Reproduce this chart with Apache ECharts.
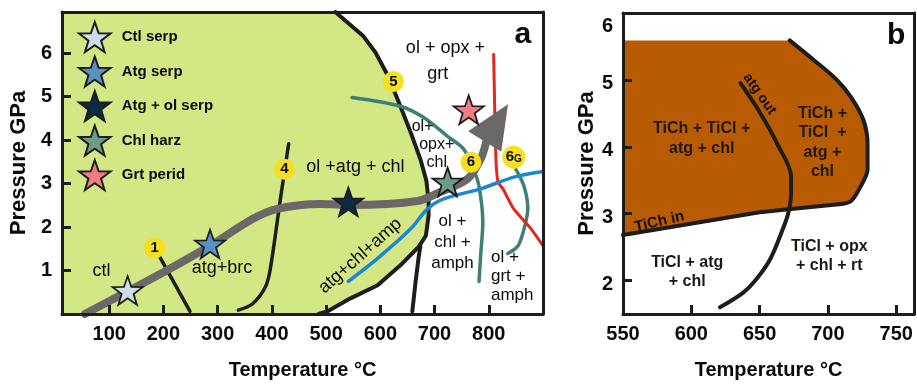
<!DOCTYPE html>
<html><head><meta charset="utf-8">
<script src="https://cdn.jsdelivr.net/npm/echarts@6/dist/echarts.min.js"></script>
<style>html,body{margin:0;padding:0;background:#fff}#c{width:917px;height:385px}</style>
</head><body><div id="c"></div>
<script>
// ================= DATA: panel a (T in °C, P in GPa) =================
const aTempTicks = [100, 200, 300, 400, 500, 600, 700, 800];
const aPresTicks = [1, 2, 3, 4, 5, 6];
// serpentine stability field boundary (upper-right limit of green field)
const serpFieldBoundary = [[517,6.95],[569,6.39],[591,6.02],[615,5.46],[637,4.78],[656,4.18],[674,3.56],[685,3.06],[689,2.60],[689,2.26],[684,1.80],[671,1.55],[637,1.12],[595,0.66],[545,0.36],[502,0.06],[486,0]];
const serpFieldCorners = [[13,0],[13,6.95]];
const chlAmphBoundary = [[659,0.06],[665,0.74],[671,1.34],[674,1.57]];
const reaction1 = [[193,1.32],[249,0.06]];
const reaction4 = [[338,0.09],[364,0.23],[388,0.62],[397,1.03],[416,2.67],[431,3.92]];
const reaction6 = [[548,4.98],[637,4.78],[680,4.52],[724,4.09],[754,3.79],[772,3.33],[782,2.94],[789,2.12],[785,1.34],[782,0.75]];
const reaction6G = [[850,3.33],[865,2.94],[872,2.42],[865,1.96],[854,1.57],[835,1.39]];
const redLine = [[809,5.97],[813,3.63],[817,3.04],[826,2.88],[846,2.42],[878,1.96],[900,1.57]];
const blueLine = [[541,0.75],[595,1.28],[656,1.96],[687,2.42],[717,2.65],[785,2.88],[846,3.15],[900,3.28]];
const subductionPath = [[55,0],[134,0.52],[206,1.0],[286,1.57],[365,2.19],[410,2.42],[489,2.53],[545,2.51],[669,2.60],[711,2.81],[761,3.11],[785,3.56],[795,3.95]];
const arrowHead = [[814,4.40]];
const starNames = ['Ctl serp', 'Atg serp', 'Atg + ol serp', 'Chl harz', 'Grt perid'];
const starPoints = [[134,0.54],[286,1.61],[541,2.58],[724,3.04],[763,4.70]];
const reactionNames = ['1', '4', '5', '6', '6G'];
const reactionPoints = [[184,1.52],[423,3.33],[624,5.35],[767,3.49],[846,3.61]];
const aFieldLabels = [
  [86,0.98,'ctl'],[308,1.05,'atg+brc'],[554,3.38,'ol +atg + chl'],
  [720,6.13,'ol + opx +'],[706,5.52,'grt'],
  [678,4.32,'ol+'],[704,3.91,'opx+'],[704,3.49,'chl'],
  [733,1.64,'ol +\nchl +\namph'],[804,0.86,'ol +\ngrt +\namph'],
  [563,1.34,'atg+chl+amp'],[863,6.42,'a']
];

// ================= DATA: panel b =================
const bTempTicks = [550, 600, 650, 700, 750];
const bPresTicks = [2, 3, 4, 5, 6];
const tiChFieldTop = [[550,5.59]];
const tiChOutBoundary = [[672,5.59],[690,5.29],[706,5.01],[717,4.74],[726,4.40],[729,4.04],[729,3.66],[724,3.41],[717,3.19],[708,3.14]];
const tiChIn = [[550,2.68],[650,3.02],[673,3.07],[708,3.14]];
const atgOut = [[636,4.95],[650,4.52],[663,4.04],[673,3.56],[673,3.30],[671,3.01],[667,2.77],[658,2.33],[648,2.03],[638,1.82],[621,1.60]];
const bFieldLabels = [
  [607.6,4.12,'TiCh + TiCl +\natg + chl'],[696,4.06,'TiCh +\nTiCl  +\natg +\nchl'],
  [597,2.13,'TiCl + atg\n+ chl'],[701,2.36,'TiCl + opx\n+ chl + rt'],
  [576.6,2.88,'TiCh in'],[650,4.79,'atg out'],[750,5.66,'b']
];

// ================= STYLES =================
const FONT = "'Liberation Sans', Arial, sans-serif";
const INK = '#1d1d1b';
const TXT = '#0a0a0a';
const GREEN = '#d3e785';
const ORANGE = '#b95b03';
const TEAL = '#3e7f77';
const starFill = ['#cfdbe8', '#5a92c8', '#0d2944', '#6e9c89', '#f27c83'];
const starPath = 'path://M50,0L61.76,33.82L97.55,34.55L69.02,56.18L79.39,90.45L50,70L20.61,90.45L30.98,56.18L2.45,34.55L38.24,33.82Z';
const labelStyleA = {
  'ol+': {fontSize: 16}, 'opx+': {fontSize: 16}, 'chl': {fontSize: 16},
  'ol +\nchl +\namph': {fontSize: 17, lineHeight: 21},
  'ol +\ngrt +\namph': {fontSize: 17, lineHeight: 19, align: 'left'},
  'atg+chl+amp': {fontSize: 18, rotate: 41.5},
  'a': {fontSize: 30, fontWeight: 'bold'}
};
const labelStyleB = {
  'TiCh + TiCl +\natg + chl': {lineHeight: 20},
  'TiCh +\nTiCl  +\natg +\nchl': {lineHeight: 19.5},
  'TiCl + atg\n+ chl': {lineHeight: 19},
  'TiCl + opx\n+ chl + rt': {lineHeight: 19},
  'TiCh in': {fontSize: 15, rotate: 13, color: '#140d05'},
  'atg out': {fontSize: 14, rotate: -55, color: '#140d05'},
  'b': {fontSize: 30, fontWeight: 'bold', color: TXT}
};

const chart = echarts.init(document.getElementById('c'));

function mainX(gi, min, max, ticks) {
  return {type:'value', gridIndex:gi, min, max, position:'bottom', z:10,
    name:'Temperature °C', nameLocation:'middle', nameGap:46,
    nameTextStyle:{fontSize:20, fontWeight:'bold', color:TXT, fontFamily:FONT},
    axisLine:{show:true, onZero:false, lineStyle:{color:INK, width:3}},
    axisTick:{show:true, inside:true, length:9, customValues:ticks, lineStyle:{color:INK, width:3}},
    axisLabel:{show:true, customValues:ticks, margin:10, fontSize:20, fontWeight:'bold', color:TXT, fontFamily:FONT},
    splitLine:{show:false}};
}
function mainY(gi, min, max, ticks, labels, gap, fmt, pad) {
  return {type:'value', gridIndex:gi, min, max, position:'left', z:10,
    name:'Pressure GPa', nameLocation:'middle', nameGap:gap,
    nameTextStyle:{fontSize:22, fontWeight:'bold', color:TXT, fontFamily:FONT},
    axisLine:{show:true, onZero:false, lineStyle:{color:INK, width:3}},
    axisTick:{show:true, inside:true, length:9, customValues:ticks, lineStyle:{color:INK, width:3}},
    axisLabel:{show:true, customValues:labels, margin:10, fontSize:20, fontWeight:'bold', color:TXT, fontFamily:FONT,
      formatter: fmt,
      rich:{d:{padding:[26,0,0,0], fontSize:20, fontWeight:'bold', color:TXT, fontFamily:FONT},
            n:{padding:[pad,0,0,0], fontSize:20, fontWeight:'bold', color:TXT, fontFamily:FONT}}},
    splitLine:{show:false}};
}
function frameAxis(gi, min, max, pos) {
  return {type:'value', gridIndex:gi, min, max, position:pos, z:10,
    axisLine:{show:true, onZero:false, lineStyle:{color:INK, width:3}},
    axisTick:{show:false}, axisLabel:{show:false}, splitLine:{show:false}};
}
function line(data, color, width, xi, yi, z, smooth) {
  return {type:'line', data, xAxisIndex:xi, yAxisIndex:yi, symbol:'none', smooth: smooth || false,
    lineStyle:{color, width, cap:'round', join:'round'}, z: z || 3, silent:true, animation:false};
}
function polygon(points, color, xi, yi, z) {
  return {type:'custom', xAxisIndex:xi, yAxisIndex:yi, data:[points[0]], z, silent:true, clip:true, animation:false,
    renderItem:(params, api) => ({type:'polygon', shape:{points: points.map(p => api.coord(p))}, style:{fill:color}})};
}
function texts(items, xi, yi, base, styles) {
  return {type:'scatter', xAxisIndex:xi, yAxisIndex:yi, symbolSize:1, z:20, silent:true, animation:false,
    itemStyle:{color:'rgba(255,255,255,0)', opacity:1},
    label:Object.assign({show:true, position:'inside', fontFamily:FONT, textBorderWidth:0, opacity:1}, base),
    data: items.map(it => ({value:[it[0], it[1]], label:Object.assign({formatter:it[2]}, styles[it[2]] || {})}))};
}

const series = [];
// panel a
series.push(polygon(serpFieldCorners.concat(serpFieldBoundary), GREEN, 0, 0, 1));
series.push(line(serpFieldBoundary, INK, 4, 0, 0, 4));
series.push(line(chlAmphBoundary, INK, 4, 0, 0, 4));
series.push(line(reaction1, INK, 3.5, 0, 0, 4));
series.push(line(reaction4, INK, 3.5, 0, 0, 4, 0.3));
series.push(line(reaction6, TEAL, 3.5, 0, 0, 5, 0.3));
series.push(line(reaction6G, TEAL, 3.5, 0, 0, 5, 0.3));
series.push(line(redLine, '#e2271d', 3, 0, 0, 5, 0.2));
series.push(line(blueLine, '#1a86d6', 3.5, 0, 0, 5, 0.3));
series.push(line(subductionPath, '#6b6868', 8, 0, 0, 6, 0.3));
series.push({type:'scatter', xAxisIndex:0, yAxisIndex:0, data:arrowHead, symbol:'triangle', symbolSize:[39,44],
  symbolRotate:-32, itemStyle:{color:'#6b6868', opacity:1}, z:6, silent:true, animation:false});
starNames.forEach((n, i) => series.push({type:'scatter', name:n, xAxisIndex:0, yAxisIndex:0, data:[starPoints[i]],
  symbol:starPath, symbolSize:30, symbolKeepAspect:true,
  itemStyle:{color:starFill[i], borderColor:INK, borderWidth:1.8, opacity:1}, z:12, silent:true, animation:false}));
series.push({type:'scatter', xAxisIndex:0, yAxisIndex:0, z:14, silent:true, animation:false,
  data: reactionNames.map((n, i) => ({name:n, value:reactionPoints[i], symbolSize: n === '6G' ? 23 : 21})),
  itemStyle:{color:'#f6df1c', opacity:1},
  label:{show:true, position:'inside', fontFamily:FONT, fontWeight:'bold', fontSize:15, color:TXT, textBorderWidth:0,
    formatter: p => p.name === '6G' ? '{n|6}{s|G}' : p.name,
    rich:{n:{fontSize:15, fontWeight:'bold', color:TXT, fontFamily:FONT}, s:{fontSize:10, fontWeight:'bold', color:TXT, fontFamily:FONT, padding:[4,0,0,0]}}}});
series.push(texts(aFieldLabels, 0, 0, {fontSize:18, color:TXT}, labelStyleA));
// panel b
series.push(polygon(tiChFieldTop.concat(tiChOutBoundary, tiChIn.slice().reverse()), ORANGE, 1, 1, 1));
series.push(line(tiChOutBoundary, INK, 4, 1, 1, 4, 0.3));
series.push(line(tiChIn, INK, 4, 1, 1, 4));
series.push(line(atgOut, INK, 4, 1, 1, 4, 0.3));
series.push(texts(bFieldLabels, 1, 1, {fontSize:16, fontWeight:'bold', color:'#1c1812'}, labelStyleB));

chart.setOption({
  animation:false,
  backgroundColor:'#fff',
  grid:[
    {left:62, top:12, width:481, height:305},
    {left:623, top:13, width:291, height:305}
  ],
  legend:{data: starNames.map(n => ({name:n, icon:starPath})), orient:'vertical', left:73, top:16,
    itemWidth:44, itemHeight:30, itemGap:2.5, selectedMode:false,
    textStyle:{fontSize:15, fontWeight:'bold', color:TXT, fontFamily:FONT}},
  xAxis:[
    mainX(0, 13, 900, aTempTicks),
    mainX(1, 550, 763, bTempTicks),
    frameAxis(0, 13, 900, 'top'),
    frameAxis(1, 550, 763, 'top')
  ],
  yAxis:[
    mainY(0, 0, 6.95, aPresTicks, aPresTicks, 30, v => String(v), 0),
    mainY(1, 1.5, 6.0, [2,3,4,5], bPresTicks, 22, v => v === 6 ? '{d|6}' : '{n|' + v + '}', 7),
    frameAxis(0, 0, 6.95, 'right'),
    frameAxis(1, 1.5, 6.0, 'right')
  ],
  series
});
</script></body></html>
